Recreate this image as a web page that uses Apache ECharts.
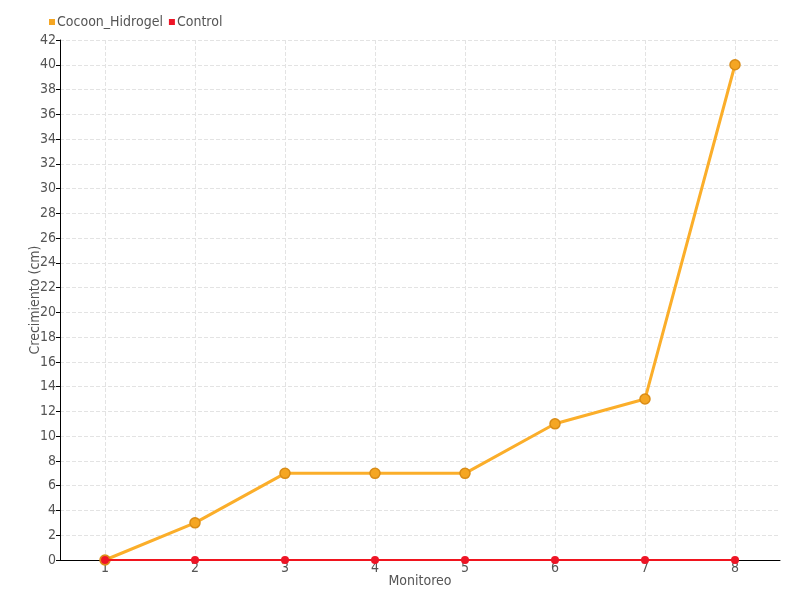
<!DOCTYPE html>
<html><head><meta charset="utf-8">
<script src="https://cdn.jsdelivr.net/npm/echarts@6/dist/echarts.min.js"></script>
<style>html,body{margin:0;padding:0;background:#fff}#c{width:800px;height:600px}</style>
</head><body><div id="c"></div>
<script>
const categories = ['1','2','3','4','5','6','7','8'];
const cocoonValues = [0,3,7,7,7,11,13,40];
const controlValues = [0,0,0,0,0,0,0,0];
const seriesNames = ['Cocoon_Hidrogel','Control'];
const FONT = "'DejaVu Sans Condensed','Liberation Sans Narrow',sans-serif";
const chart = echarts.init(document.getElementById('c'));
chart.setOption({
  animation:false,
  textStyle:{fontFamily:FONT},
  legend:{left:44,top:10,itemWidth:6,itemHeight:6,itemGap:6,icon:'rect',
    itemStyle:{borderWidth:0},
    textStyle:{fontFamily:FONT,fontSize:14,color:'#555',padding:[0,0,0,-3]},
    data:seriesNames},
  grid:{left:60,right:20,top:40,bottom:40},
  xAxis:{type:'category',data:categories,boundaryGap:true,z:0,
    name:'Monitoreo',nameLocation:'middle',nameGap:14,nameMoveOverlap:false,
    nameTextStyle:{fontFamily:FONT,fontSize:14,color:'#555'},
    axisLine:{lineStyle:{color:'#000'}},
    axisTick:{show:false,alignWithLabel:true},
    axisLabel:{fontFamily:FONT,fontSize:14,color:'#555',margin:1},
    splitLine:{show:true,alignWithLabel:true,lineStyle:{type:'dashed',color:'#e3e3e3'}}},
  yAxis:{type:'value',min:0,max:42,interval:2,
    name:'Crecimiento (cm)',nameLocation:'middle',nameGap:18,nameMoveOverlap:false,
    nameTextStyle:{fontFamily:FONT,fontSize:14,color:'#555'},
    axisLine:{show:true,lineStyle:{color:'#000'}},
    axisTick:{show:true,length:4,lineStyle:{color:'#000'}},
    axisLabel:{fontFamily:FONT,fontSize:14,color:'#555',margin:4},
    splitLine:{show:true,lineStyle:{type:'dashed',color:'#e3e3e3'}}},
  series:[
    {name:seriesNames[0],type:'line',data:cocoonValues,symbol:'circle',symbolSize:10,
     lineStyle:{color:'#FBAE2A',width:3},
     itemStyle:{color:'#F5A623',borderColor:'#D98C17',borderWidth:1.5}},
    {name:seriesNames[1],type:'line',data:controlValues,symbol:'circle',symbolSize:8,z:5,
     lineStyle:{color:'#F0141E',width:2},
     itemStyle:{color:'#EE1526',borderWidth:0}}
  ]
});
</script></body></html>
